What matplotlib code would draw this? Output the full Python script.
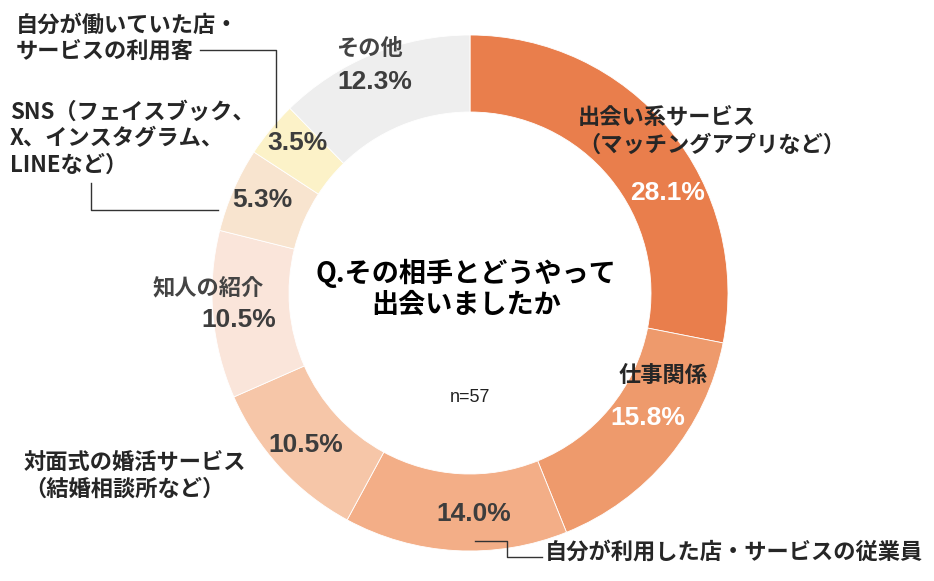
import matplotlib.pyplot as plt

plt.rcParams['font.family'] = ['Noto Sans CJK JP', 'DejaVu Sans']

# data, clockwise from 12 o'clock
categories = ["出会い系サービス（マッチングアプリなど）", "仕事関係", "自分が利用した店・サービスの従業員",
              "対面式の婚活サービス（結婚相談所など）", "知人の紹介",
              "SNS（フェイスブック、X、インスタグラム、LINEなど）",
              "自分が働いていた店・サービスの利用客", "その他"]
values = [28.1, 15.8, 14.0, 10.5, 10.5, 5.3, 3.5, 12.3]
colors = ["#E97E4C", "#EE9A6C", "#F3AE87", "#F6C6A8", "#FAE5DA", "#F8E4CF", "#FCF2C8", "#EEEEEE"]
pct_colors = ["white", "white", "#3d3d3d", "#3d3d3d", "#3d3d3d", "#3d3d3d", "#3d3d3d", "#3d3d3d"]

W, H = 934, 581
fig = plt.figure(figsize=(W / 100, H / 100), dpi=100)
ax = fig.add_axes([0, 0, 1, 1])

cx, cy, R = 470, H - 293, 258
ax.pie(values, colors=colors, startangle=90, counterclock=False, radius=R, center=(cx, cy),
       wedgeprops=dict(width=R - 181, edgecolor='white', linewidth=0.6), frame=True)
ax.set_xlim(0, W)
ax.set_ylim(0, H)
ax.set_aspect('equal')
ax.axis('off')


def put(x, y, s, **kw):
    # y given in pixel coords from top
    ax.text(x, H - y, s, va='center', **kw)


pct_font = ['Liberation Sans', 'Noto Sans CJK JP']
pct_pos = [(668, 193), (648, 418), (474, 514), (306, 445), (239, 320), (262, 200), (297, 143), (375, 82)]
for v, (x, y), c in zip(values, pct_pos, pct_colors):
    put(x, y, f"{v:.1f}%", ha='center', fontsize=19, fontweight='bold', color=c, family=pct_font)

lab = dict(fontsize=16, color='#262626', fontweight='bold')
put(578, 117, "出会い系サービス", ha='left', **lab)
put(578, 145, "（マッチングアプリなど）", ha='left', **lab)
put(663, 376, "仕事関係", ha='center', **lab)
put(545, 552, "自分が利用した店・サービスの従業員", ha='left', **lab)
put(24, 462, "対面式の婚活サービス", ha='left', **lab)
put(24, 489, "（結婚相談所など）", ha='left', **lab)
put(208, 288, "知人の紹介", ha='center', fontsize=16, color='#444444', fontweight='bold')
put(10, 112, "SNS（フェイスブック、", ha='left', **lab)
put(10, 139, "X、インスタグラム、", ha='left', **lab)
put(10, 165, "LINEなど）", ha='left', **lab)
put(16, 25, "自分が働いていた店・", ha='left', **lab)
put(16, 51, "サービスの利用客", ha='left', **lab)
put(369, 48, "その他", ha='center', fontsize=16, color='#444444', fontweight='bold')

# leader lines
lc = dict(color='#333333', linewidth=1)
ax.plot([200, 276, 276], [H - 50, H - 50, H - 127], **lc)
ax.plot([91, 91, 218], [H - 183, H - 210, H - 210], **lc)
ax.plot([475, 507, 507, 542], [H - 541, H - 541, H - 557, H - 557], **lc)

# centre text
put(466, 273, "Q.その相手とどうやって", ha='center', fontsize=19.5, fontweight='bold', color='black')
put(466, 305, "出会いましたか", ha='center', fontsize=19.5, fontweight='bold', color='black')
put(470, 398, "n=57", ha='center', fontsize=13, color='#222222', family=pct_font)

fig.savefig("out.png", dpi=100)
